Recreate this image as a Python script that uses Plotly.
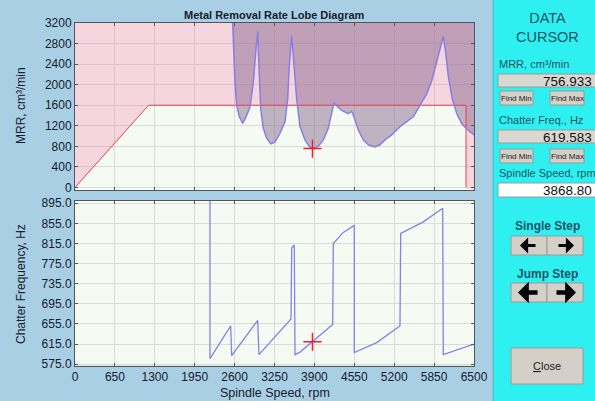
import plotly.graph_objects as go

W, H = 595, 401


def px(x):
    return x / W


def py(y):
    return 1 - y / H


# ---------------- data ----------------
x_ticks = [0, 650, 1300, 1950, 2600, 3250, 3900, 4550, 5200, 5850, 6500]
mrr_ticks = [0, 400, 800, 1200, 1600, 2000, 2400, 2800, 3200]
freq_ticks = [575, 615, 655, 695, 735, 775, 815, 855, 895]

power_rpm = [0, 1200, 6370, 6370]
power_mrr = [0, 1600, 1600, 0]

lobe_rpm = [2562, 2606, 2634, 2677, 2732, 2786, 2851, 2905, 2948, 2976, 2997, 3025,
            3067, 3123, 3188, 3258, 3340, 3421, 3465, 3491, 3530, 3568, 3611, 3665,
            3747, 3828, 3869, 3963, 4045, 4126, 4182, 4219, 4263, 4345, 4452, 4507,
            4545, 4615, 4696, 4778, 4887, 4968, 5050, 5159, 5294, 5430, 5511, 5620,
            5729, 5811, 5892, 5957, 6000, 6039, 6081, 6146, 6218, 6299, 6381, 6500]
lobe_mrr = [3400, 2044, 1596, 1374, 1245, 1374, 1565, 2044, 2682, 3033, 2362, 1533,
            1150, 958, 849, 881, 1054, 1278, 1724, 2362, 2951, 2362, 1724, 1182,
            925, 780, 757, 799, 925, 1150, 1437, 1648, 1585, 1500, 1437, 1481,
            1374, 1117, 925, 830, 786, 830, 925, 1021, 1182, 1309, 1374, 1596,
            1820, 2075, 2428, 2746, 2937, 2619, 2171, 1724, 1437, 1245, 1136, 1021]

chat_rpm = [2199, 2199, 2536, 2553, 2976, 2997, 3519, 3530, 3572, 3584, 3665, 3869,
            4198, 4208, 4371, 4550, 4550, 4915, 5294, 5306, 5674, 5990, 6000, 6500]
chat_freq = [905, 586, 651, 592, 662, 594, 665, 806, 812, 594, 599, 619.6,
             654, 815, 837, 851, 598, 618, 651, 835, 858, 885, 594, 615]

cursor_rpm = 3868.80
cursor_mrr = 756.933
cursor_freq = 619.583

x_min, x_max = 0, 6500
mrr_min, mrr_max = -50, 3200
f_min, f_max = 572, 900

# ---------------- styles ----------------
BG = "#a8cfe4"
PANEL = "#2ff0f0"
PLOTBG = "#f5fbf3"
GRID = "#d9dcd9"
TXT = "#18202e"
TEAL = "#1d5566"
FONT = "Liberation Sans, Arial, sans-serif"

fig = go.Figure()

# power-limited region (above the power curve)
fig.add_trace(go.Scatter(
    x=power_rpm + [x_max, x_max, x_min, x_min],
    y=power_mrr + [mrr_min, mrr_max, mrr_max, 0],
    fill="toself", mode="lines", line=dict(width=0),
    fillcolor="rgba(244,125,176,0.30)",
    hoverinfo="skip", showlegend=False, xaxis="x", yaxis="y"))

# unstable region (above the lobes)
fig.add_trace(go.Scatter(
    x=lobe_rpm + [x_max, lobe_rpm[0]],
    y=lobe_mrr + [mrr_max + 300, mrr_max + 300],
    fill="toself", mode="lines", line=dict(width=0),
    fillcolor="rgba(138,108,146,0.5)",
    hoverinfo="skip", showlegend=False, xaxis="x", yaxis="y"))

# power line
fig.add_trace(go.Scatter(
    x=power_rpm, y=power_mrr, mode="lines",
    line=dict(color="#e8404f", width=1),
    showlegend=False, xaxis="x", yaxis="y"))

# lobe line
fig.add_trace(go.Scatter(
    x=lobe_rpm, y=lobe_mrr, mode="lines",
    line=dict(color="#8a7ee2", width=1.5),
    showlegend=False, xaxis="x", yaxis="y"))

# cursor upper
fig.add_trace(go.Scatter(
    x=[cursor_rpm], y=[cursor_mrr], mode="markers",
    marker=dict(symbol="cross-thin", size=13, line=dict(width=1.5, color="#e8202a")),
    showlegend=False, xaxis="x", yaxis="y"))

# chatter frequency
fig.add_trace(go.Scatter(
    x=chat_rpm, y=chat_freq, mode="lines",
    line=dict(color="#8282e4", width=1.3),
    showlegend=False, xaxis="x2", yaxis="y2"))

fig.add_trace(go.Scatter(
    x=[cursor_rpm], y=[cursor_freq], mode="markers",
    marker=dict(symbol="cross-thin", size=13, line=dict(width=1.5, color="#e8202a")),
    showlegend=False, xaxis="x2", yaxis="y2"))

axis_common = dict(
    showgrid=True, gridcolor=GRID, gridwidth=1,
    showline=True, linecolor="#555555", linewidth=1, mirror="ticks",
    ticks="inside", ticklen=3, tickcolor="#555555",
    zeroline=False, tickfont=dict(family=FONT, size=12, color=TXT),
)

xdom = [px(75), px(474)]
fig.update_layout(
    width=W, height=H, autosize=False,
    margin=dict(l=0, r=0, t=0, b=0, pad=0, autoexpand=False),
    paper_bgcolor=BG, plot_bgcolor=PLOTBG,
    font=dict(family=FONT, color=TXT),
    xaxis=dict(domain=xdom, range=[x_min, x_max], tickvals=x_ticks,
               showticklabels=False, anchor="y", **axis_common),
    yaxis=dict(domain=[py(190), py(23)], range=[mrr_min, mrr_max],
               tickvals=mrr_ticks, ticktext=[str(v) for v in mrr_ticks],
               anchor="x", **axis_common),
    xaxis2=dict(domain=xdom, range=[x_min, x_max], tickvals=x_ticks,
                ticktext=[str(v) for v in x_ticks], anchor="y2", **axis_common),
    yaxis2=dict(domain=[py(365.7), py(200.7)], range=[f_min, f_max],
                tickvals=freq_ticks, ticktext=["%.1f" % v for v in freq_ticks],
                anchor="x2", **axis_common),
)

shapes = []
annotations = []

# right panel
shapes.append(dict(type="rect", xref="paper", yref="paper", x0=px(493), x1=1.0,
                   y0=0, y1=1, fillcolor=PANEL, line=dict(width=0), layer="below"))
shapes.append(dict(type="line", xref="paper", yref="paper", x0=px(493), x1=px(493),
                   y0=0, y1=1, line=dict(color="#78aabd", width=1)))


def text(x, y, s, size=11, color=TEAL, bold=False, xanchor="center", yanchor="middle",
         angle=0):
    annotations.append(dict(
        x=px(x), y=py(y), xref="paper", yref="paper",
        text=("<b>%s</b>" % s) if bold else s, textangle=angle,
        showarrow=False, xanchor=xanchor, yanchor=yanchor,
        font=dict(family=FONT, size=size, color=color)))


def box(x0, y0, x1, y1, fill, line="#9a9a9a"):
    shapes.append(dict(type="rect", xref="paper", yref="paper",
                       x0=px(x0), x1=px(x1), y0=py(y1), y1=py(y0),
                       fillcolor=fill, line=dict(color=line, width=1)))


# left labels
text(274, 15, "Metal Removal Rate Lobe Diagram", size=11, color=TXT, bold=True)
text(21, 106, "MRR, cm³/min", size=12, color=TXT, angle=-90)
text(21, 284, "Chatter Frequency, Hz", size=12, color=TXT, angle=-90)
text(275, 393, "Spindle Speed, rpm", size=12.5, color=TXT)

# data cursor panel
text(547, 27.5, "DATA<br>CURSOR", size=14.5, color=TEAL)

text(497, 72, "MRR, cm³/min", size=11, xanchor="left", yanchor="bottom")
box(498, 74, 596, 87, "#d9d9d2")
text(594, 72, "%.3f" % cursor_mrr, size=13.5, color="#111111", xanchor="right",
     yanchor="top")
box(500, 91, 533, 105, "#d4d0c8")
box(550, 91, 584, 105, "#d4d0c8")
text(516.5, 98, "Find Min", size=8, color="#222222")
text(567, 98, "Find Max", size=8, color="#222222")

text(497, 128, "Chatter Freq., Hz", size=11, xanchor="left", yanchor="bottom")
box(498, 130, 596, 143, "#d9d9d2")
text(594, 128, "%.3f" % cursor_freq, size=13.5, color="#111111", xanchor="right",
     yanchor="top")
box(500, 149, 533, 163, "#d4d0c8")
box(550, 149, 584, 163, "#d4d0c8")
text(516.5, 156, "Find Min", size=8, color="#222222")
text(567, 156, "Find Max", size=8, color="#222222")

text(497, 181, "Spindle Speed, rpm", size=11, xanchor="left", yanchor="bottom")
box(498, 183, 596, 197, "#ffffff")
text(594, 181, "%.2f" % cursor_rpm, size=13.5, color="#111111", xanchor="right",
     yanchor="top")

text(547, 226, "Single Step", size=12, bold=True)
box(511, 236, 547, 255, "#d4d0c8")
box(547, 236, 583, 255, "#d4d0c8")
text(547, 274, "Jump Step", size=12, bold=True)
box(511, 283, 547, 302, "#d4d0c8")
box(547, 283, 583, 302, "#d4d0c8")


def arrow(xtip, y, dx, w, size):
    annotations.append(dict(x=px(xtip), y=py(y), xref="paper", yref="paper",
                            ax=dx, ay=0, showarrow=True, arrowhead=1, arrowsize=size,
                            arrowwidth=w, arrowcolor="#000000", text=""))


arrow(520, 245.5, 17, 3, 0.9)
arrow(574, 245.5, -17, 3, 0.9)
arrow(518, 292.5, 21, 4.5, 0.8)
arrow(576, 292.5, -21, 4.5, 0.8)

box(511, 348, 583, 384, "#d4d0c8")
text(547, 366, "<u>C</u>lose", size=11, color="#222222")

fig.update_layout(shapes=shapes, annotations=annotations)

fig.write_html("out.html")
